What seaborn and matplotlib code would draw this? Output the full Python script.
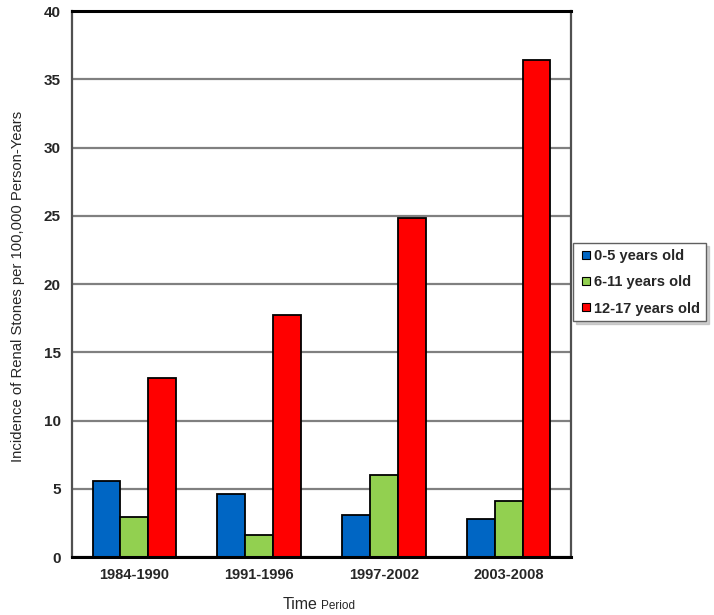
import pandas as pd
import matplotlib.pyplot as plt
from matplotlib.lines import Line2D
import seaborn as sns

periods = ['1984-1990', '1991-1996', '1997-2002', '2003-2008']
ages = ['0-5 years old', '6-11 years old', '12-17 years old']
age_0_5 = [5.6, 4.6, 3.1, 2.8]
age_6_11 = [2.9, 1.6, 6.0, 4.1]
age_12_17 = [13.1, 17.7, 24.8, 36.4]
colors = ['#0066C4', '#92D050', '#FF0000']

D = pd.DataFrame({
    'period': periods * 3,
    'age': [ages[0]] * 4 + [ages[1]] * 4 + [ages[2]] * 4,
    'rate': age_0_5 + age_6_11 + age_12_17,
})

sns.set_style('white')
plt.rcParams['font.family'] = ['Liberation Sans', 'DejaVu Sans']

fig = plt.figure(figsize=(7.14, 6.15), dpi=100)
ax = fig.add_axes([0.1008, 0.0943, 0.6989, 0.8878])

sns.barplot(data=D, x='period', y='rate', hue='age', order=periods, hue_order=ages,
            palette=colors, width=0.67, gap=0, edgecolor='black', linewidth=1.3,
            saturation=1, legend=False, ax=ax)

ax.set_ylim(0, 40)
ax.set_xlim(-0.5, 3.5)
ax.set_yticks(range(0, 41, 5))
ax.yaxis.grid(True, color='#808080', linewidth=1.6)
ax.set_axisbelow(True)

# ticks sit between the groups
ax.set_xticks([-0.5, 0.5, 1.5, 2.5, 3.5], minor=True)
ax.tick_params(axis='x', which='major', length=0, pad=8)
ax.tick_params(axis='x', which='minor', length=5, width=1.2, direction='out', color='#404040')
ax.tick_params(axis='y', length=4, width=1.2, direction='out', color='#606060', pad=4)
for lab in ax.get_xticklabels():
    lab.set_fontweight('bold')
    lab.set_fontsize(10.5)
for lab in ax.get_yticklabels():
    lab.set_fontweight('bold')
    lab.set_fontsize(11)

for side in ['left', 'right']:
    ax.spines[side].set_color('#505050')
    ax.spines[side].set_linewidth(1.6)
for side in ['top', 'bottom']:
    ax.spines[side].set_color('black')
    ax.spines[side].set_linewidth(2.2)

ax.set_xlabel('')
ax.set_ylabel('Incidence of Renal Stones per 100,000 Person-Years', fontsize=10.7)
ax.yaxis.set_label_coords(-0.094, 0.496)

# x label, "Period" in a smaller size
ax.text(0.493, -0.0952, 'Time', transform=ax.transAxes, ha='right', va='baseline', fontsize=11.5)
ax.text(0.499, -0.0952, 'Period', transform=ax.transAxes, ha='left', va='baseline', fontsize=8.5)

handles = [Line2D([], [], linestyle='none', marker='s', markersize=5.5, markerfacecolor=c,
                  markeredgecolor='black', markeredgewidth=0.8) for c in colors]
leg = ax.legend(handles, ages, loc='upper left', bbox_to_anchor=(0.8025, 0.605),
                bbox_transform=fig.transFigure, borderaxespad=0,
                frameon=True, fancybox=False, shadow={'color': '#b0b0b0', 'alpha': 0.6},
                handlelength=1.0, handletextpad=0.05, borderpad=0.4, labelspacing=0.85,
                prop={'weight': 'bold', 'size': 10.5})
leg.get_frame().set_edgecolor('#606060')
leg.get_frame().set_linewidth(1.0)

plt.savefig('out.png', dpi=100)
